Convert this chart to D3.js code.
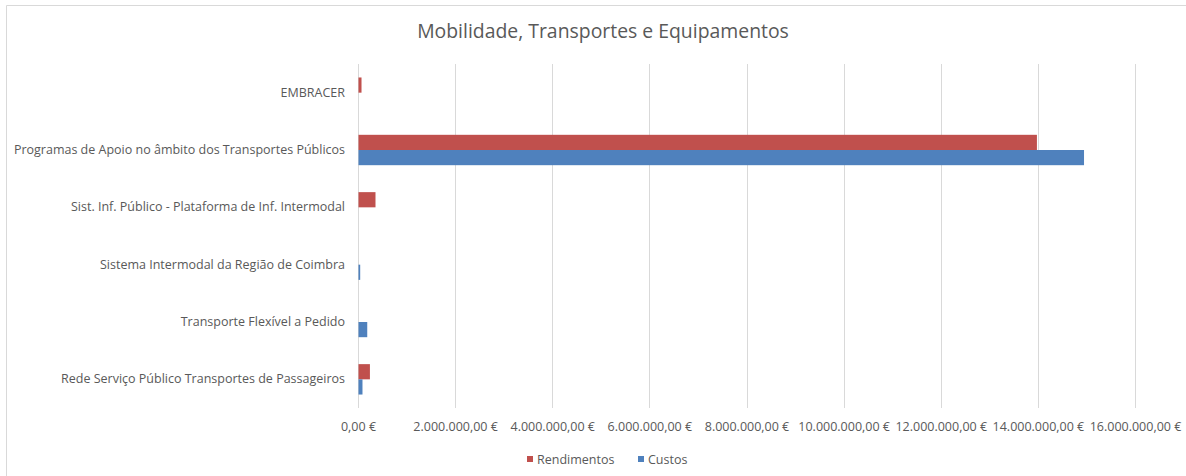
<!DOCTYPE html>
<html>
<head>
<meta charset="utf-8">
<script src="https://cdn.jsdelivr.net/npm/d3@7"></script>
<style>
  body { margin: 0; background: #fff; }
  text { font-family: "Open Sans", sans-serif; fill: #595959; }
</style>
</head>
<body>
<div id="chart"></div>
<script>
// categories top to bottom, as in the picture
const categories = [
    "EMBRACER",
    "Programas de Apoio no âmbito dos Transportes Públicos",
    "Sist. Inf. Público - Plataforma de Inf. Intermodal",
    "Sistema Intermodal da Região de Coimbra",
    "Transporte Flexível a Pedido",
    "Rede Serviço Público Transportes de Passageiros"
];
const rendimentos = [62000, 13970000, 350000, 0, 0, 235000];
const custos = [0, 14940000, 0, 35000, 180000, 82000];
const seriesNames = ["Rendimentos", "Custos"];
const seriesColors = ["#C0504D", "#4F81BD"];
const xTicks = [0, 2000000, 4000000, 6000000, 8000000, 10000000, 12000000, 14000000, 16000000];

const W = 1186, H = 476;
const margin = { top: 64, right: 51, bottom: 68, left: 358 };
const width = W - margin.left - margin.right,
    height = H - margin.top - margin.bottom;

const svg = d3.select("#chart")
    .append("svg")
    .attr("width", W)
    .attr("height", H);

// chart frame (only top/left visible in the original)
svg.append("path")
    .attr("d", `M6.5,${H} V5.5 H${W}`)
    .attr("fill", "none")
    .attr("stroke", "#d9d9d9")
    .attr("stroke-width", 1);

svg.append("text")
    .attr("x", 603)
    .attr("y", 38)
    .attr("text-anchor", "middle")
    .style("font-size", "19.4px")
    .text("Mobilidade, Transportes e Equipamentos");

const g = svg.append("g")
    .attr("transform", `translate(${margin.left},${margin.top})`);

const x = d3.scaleLinear()
    .domain([0, 16000000])
    .range([0, width]);

const y = d3.scaleBand()
    .domain(categories)
    .range([0, height])
    .paddingInner(0.47)
    .paddingOuter(0.235);

const ySub = d3.scaleBand()
    .domain(seriesNames)
    .range([0, y.bandwidth()]);

// gridlines
g.append("g")
    .selectAll("line")
    .data(xTicks)
    .join("line")
    .attr("x1", d => Math.round(x(d)) + 0.5)
    .attr("x2", d => Math.round(x(d)) + 0.5)
    .attr("y1", 0)
    .attr("y2", height)
    .attr("stroke", "#d9d9d9");

const fmt = d3.formatLocale({ decimal: ",", thousands: ".", grouping: [3], currency: ["", " €"] }).format(",.2f");

// x axis labels
const xAxis = g.append("g")
    .attr("transform", `translate(0,${height})`)
    .call(d3.axisBottom(x).tickValues(xTicks).tickSize(0).tickPadding(14).tickFormat(d => fmt(d) + " €"));
xAxis.select(".domain").remove();
xAxis.selectAll("text")
    .style("font-family", "\"Open Sans\", sans-serif")
    .style("font-size", "12.5px")
    .attr("fill", "#595959");

// y axis labels
const yAxis = g.append("g")
    .call(d3.axisLeft(y).tickSize(0).tickPadding(13));
yAxis.select(".domain").remove();
yAxis.selectAll("text")
    .style("font-family", "\"Open Sans\", sans-serif")
    .style("font-size", "12.5px")
    .attr("fill", "#595959");

const rows = categories.map((c, i) => ({ cat: c, values: [rendimentos[i], custos[i]] }));

g.append("g")
    .selectAll("g")
    .data(rows)
    .join("g")
    .attr("transform", d => `translate(0,${y(d.cat)})`)
    .selectAll("rect")
    .data(d => d.values.map((v, j) => ({ key: seriesNames[j], value: v, color: seriesColors[j] })))
    .join("rect")
    .attr("x", x(0) + 0.5)
    .attr("y", d => ySub(d.key))
    .attr("width", d => Math.max(0, x(d.value) - x(0)))
    .attr("height", ySub.bandwidth())
    .attr("fill", d => d.color);

// legend
const legend = svg.append("g").attr("transform", "translate(527,460)");
const legendX = [0, 111];
seriesNames.forEach((name, i) => {
    legend.append("rect")
        .attr("x", legendX[i])
        .attr("y", -4)
        .attr("width", 6)
        .attr("height", 6)
        .attr("fill", seriesColors[i]);
    legend.append("text")
        .attr("x", legendX[i] + 10)
        .attr("y", 0)
        .attr("dy", "0.35em")
        .style("font-size", "12.5px")
        .text(name);
});
</script>
</body>
</html>
